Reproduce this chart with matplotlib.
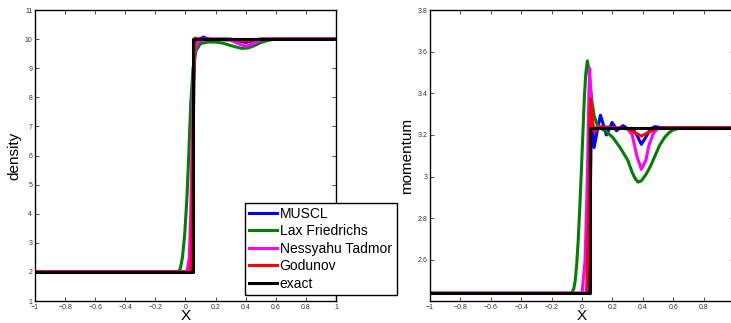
import matplotlib.pyplot as plt

plt.rcParams["font.family"] = ["Liberation Sans", "DejaVu Sans"]

labels = ["MUSCL", "Lax Friedrichs", "Nessyahu Tadmor", "Godunov", "exact"]
colors = ["#0000ff", "#008000", "#ff00ff", "#ff0000", "#000000"]

# density
rho_x = {
    "MUSCL": [-1, 0.035, 0.045, 0.055, 0.065, 0.08, 0.1, 0.12, 0.14, 0.18, 0.25, 0.3, 0.35, 0.4, 0.45, 0.5, 1],
    "Lax Friedrichs": [-1, -0.05, -0.035, -0.02, -0.005, 0.01, 0.02, 0.035, 0.05, 0.07, 0.1, 0.15, 0.2, 0.25,
                       0.3, 0.35, 0.38, 0.42, 0.46, 0.5, 0.55, 0.6, 1],
    "Nessyahu Tadmor": [-1, 0.01, 0.025, 0.035, 0.045, 0.055, 0.07, 0.09, 0.12, 0.2, 0.3, 0.35, 0.4, 0.45,
                        0.5, 0.6, 1],
    "Godunov": [-1, 0.03, 0.04, 0.05, 0.058, 0.065, 0.08, 0.3, 0.35, 0.4, 0.45, 0.5, 1],
    "exact": [-1, 0.052, 0.052, 1],
}
rho_y = {
    "MUSCL": [2, 2, 2.6, 8.5, 9.95, 9.98, 10.02, 10.07, 10.02, 9.99, 10.0, 9.99, 9.95, 9.88, 9.95, 10, 10],
    "Lax Friedrichs": [2, 2, 2.1, 2.5, 3.3, 4.6, 5.8, 7.8, 9.0, 9.6, 9.85, 9.9, 9.9, 9.86,
                       9.78, 9.71, 9.68, 9.7, 9.78, 9.88, 9.96, 10, 10],
    "Nessyahu Tadmor": [2, 2, 2.5, 4.0, 7.0, 9.3, 9.8, 9.92, 9.97, 9.99, 9.96, 9.85, 9.75, 9.84, 9.97, 10, 10],
    "Godunov": [2, 2, 2.5, 6.5, 9.6, 10.04, 10.0, 10.0, 9.97, 9.93, 9.97, 10, 10],
    "exact": [2, 2, 10, 10],
}

# momentum
mom_x = {
    "MUSCL": [-1, 0.04, 0.05, 0.06, 0.067, 0.079, 0.1, 0.121, 0.14, 0.16, 0.18, 0.197, 0.212, 0.226, 0.25,
              0.27, 0.3, 0.33, 0.36, 0.39, 0.42, 0.45, 0.48, 0.52, 1],
    "Lax Friedrichs": [-1, -0.07, -0.055, -0.045, -0.035, -0.025, -0.015, -0.005, 0.005, 0.015, 0.025, 0.035,
                       0.043, 0.05, 0.065, 0.08, 0.1, 0.13, 0.16, 0.2, 0.25, 0.3, 0.33, 0.35, 0.368, 0.39,
                       0.42, 0.45, 0.48, 0.51, 0.54, 0.57, 0.6, 0.65, 1],
    "Nessyahu Tadmor": [-1, 0.0, 0.02, 0.035, 0.045, 0.05, 0.06, 0.07, 0.08, 0.1, 0.2, 0.3, 0.33, 0.36,
                        0.39, 0.42, 0.44, 0.47, 0.5, 1],
    "Godunov": [-1, 0.03, 0.045, 0.052, 0.056, 0.065, 0.075, 0.085, 0.1, 0.12, 0.2, 0.3, 0.35, 0.39,
                0.43, 0.48, 0.55, 1],
    "exact": [-1, 0.052, 0.052, 1],
}
mom_y = {
    "MUSCL": [2.44, 2.44, 2.7, 3.2, 3.26, 3.14, 3.22, 3.295, 3.25, 3.2, 3.23, 3.26, 3.245, 3.22, 3.235,
              3.245, 3.23, 3.232, 3.2, 3.155, 3.19, 3.23, 3.24, 3.235, 3.235],
    "Lax Friedrichs": [2.44, 2.44, 2.46, 2.5, 2.58, 2.7, 2.85, 3.02, 3.2, 3.38, 3.5, 3.556,
                       3.52, 3.47, 3.36, 3.29, 3.25, 3.23, 3.215, 3.19, 3.14, 3.08, 3.02, 2.99, 2.974, 2.98,
                       3.01, 3.05, 3.1, 3.15, 3.185, 3.21, 3.225, 3.235, 3.235],
    "Nessyahu Tadmor": [2.44, 2.44, 2.6, 3.0, 3.4, 3.52, 3.35, 3.25, 3.22, 3.24, 3.235, 3.23, 3.2, 3.1,
                        3.035, 3.08, 3.15, 3.21, 3.232, 3.235],
    "Godunov": [2.44, 2.44, 2.9, 3.3, 3.375, 3.3, 3.23, 3.215, 3.235, 3.24, 3.235, 3.23, 3.21, 3.195,
                3.21, 3.23, 3.235, 3.235],
    "exact": [2.44, 2.44, 3.235, 3.235],
}


def fmt(v):
    s = f"{v:.1f}".rstrip("0").rstrip(".")
    return s.replace("-", "\u2212")


fig = plt.figure(figsize=(7.31, 3.23), dpi=100)
ax1 = fig.add_axes([0.0479, 0.0681, 0.4117, 0.9009])
ax2 = fig.add_axes([0.5883, 0.0681, 0.4159, 0.9009])

lines = []
for name, c in zip(labels, colors):
    l, = ax1.plot(rho_x[name], rho_y[name], color=c, lw=2.2)
    lines.append(l)
    ax2.plot(mom_x[name], mom_y[name], color=c, lw=2.2)

xt = [-1, -0.8, -0.6, -0.4, -0.2, 0, 0.2, 0.4, 0.6, 0.8, 1]
ax1.set_xlim(-1, 1)
ax1.set_ylim(1, 11)
ax1.set_xticks(xt)
ax1.set_xticklabels([fmt(v) for v in xt])
ax1.set_yticks(range(1, 12))
ax1.set_ylabel("density", fontsize=11, labelpad=2)
ax1.set_xlabel("X", fontsize=11, labelpad=-1)

ax2.set_xlim(-1, 1)
ax2.set_ylim(2.403, 3.8)
ax2.set_xticks(xt)
# the last label (1) sits past the figure edge in the reference
ax2.set_xticklabels([fmt(v) for v in xt[:-1]] + [""])
yt = [2.6, 2.8, 3.0, 3.2, 3.4, 3.6, 3.8]
ax2.set_yticks(yt)
ax2.set_yticklabels([fmt(v) for v in yt])
ax2.set_ylabel("momentum", fontsize=11, labelpad=2)
ax2.set_xlabel("X", fontsize=11, labelpad=-1)

for ax in (ax1, ax2):
    ax.tick_params(direction="in", length=3, width=0.6, labelsize=5, pad=2,
                   top=True, right=True, colors="#333333")
    for sp in ax.spines.values():
        sp.set_linewidth(1.0)

fig.legend(lines, labels, loc="lower left", bbox_to_anchor=(0.335, 0.087, 0.208, 0.303),
           mode="expand", fontsize=10, frameon=True, fancybox=False, edgecolor="black",
           framealpha=1, handlelength=2.0, handletextpad=0.2, labelspacing=0.25,
           borderpad=0.3, borderaxespad=0)

fig.savefig("out.png", dpi=100)
